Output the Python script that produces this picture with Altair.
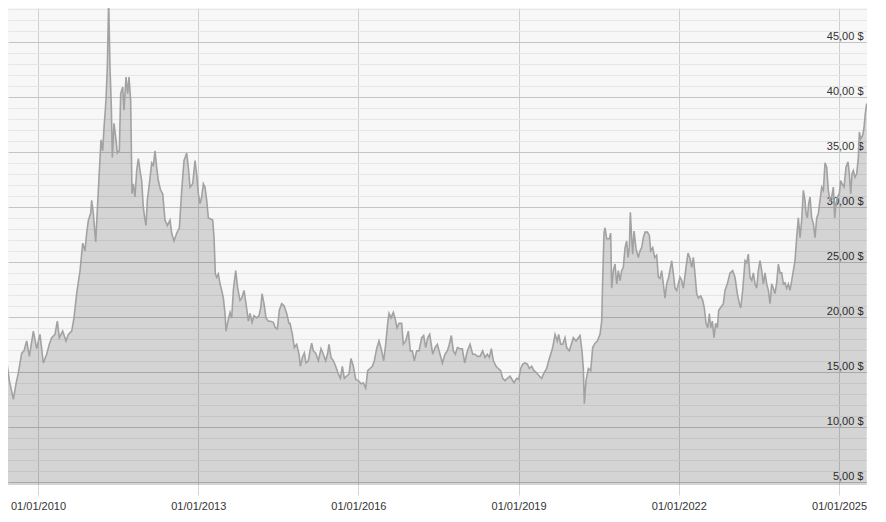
import altair as alt
import pandas as pd

# ---- data (decimal years / price in $) ----
dates_decimal = [
    2009.288, 2009.320, 2009.363, 2009.413, 2009.463, 2009.538, 2009.588, 2009.632, 2009.694, 2009.738,
    2009.788, 2009.838, 2009.913, 2009.975, 2010.037, 2010.100, 2010.162, 2010.212, 2010.256, 2010.318,
    2010.362, 2010.399, 2010.462, 2010.524, 2010.568, 2010.631, 2010.674, 2010.724, 2010.787, 2010.837,
    2010.880, 2010.911, 2010.943, 2010.986, 2011.005, 2011.036, 2011.080, 2011.117, 2011.149, 2011.180,
    2011.211, 2011.236, 2011.273, 2011.298, 2011.323, 2011.348, 2011.373, 2011.392, 2011.423, 2011.461,
    2011.486, 2011.523, 2011.548, 2011.586, 2011.610, 2011.648, 2011.679, 2011.704, 2011.735, 2011.760,
    2011.785, 2011.816, 2011.848, 2011.879,
    2011.910, 2011.941, 2011.973, 2012.004, 2012.023, 2012.047, 2012.085, 2012.129, 2012.160, 2012.191,
    2012.222, 2012.253, 2012.297, 2012.335, 2012.378, 2012.422, 2012.472, 2012.503, 2012.547, 2012.597,
    2012.647, 2012.691, 2012.734, 2012.784, 2012.815, 2012.847, 2012.897, 2012.940, 2012.971, 2013.003,
    2013.034, 2013.065, 2013.096, 2013.127, 2013.159, 2013.190, 2013.234, 2013.271, 2013.296, 2013.321,
    2013.346, 2013.377, 2013.408, 2013.440, 2013.471, 2013.502, 2013.521, 2013.552, 2013.596, 2013.627,
    2013.658, 2013.702, 2013.739, 2013.783, 2013.814, 2013.858, 2013.895, 2013.939, 2013.970, 2014.008,
    2014.045, 2014.095, 2014.139, 2014.170, 2014.195, 2014.232, 2014.270, 2014.313, 2014.357, 2014.407,
    2014.444, 2014.482, 2014.519, 2014.563, 2014.607, 2014.657, 2014.700,
    2014.719, 2014.763, 2014.800, 2014.844, 2014.888, 2014.913, 2014.950, 2014.987, 2015.019, 2015.062,
    2015.094, 2015.125, 2015.156, 2015.200, 2015.250, 2015.300, 2015.343, 2015.387, 2015.425, 2015.449,
    2015.487, 2015.531, 2015.574, 2015.624, 2015.662, 2015.699, 2015.737, 2015.780, 2015.824, 2015.861,
    2015.905, 2015.949, 2015.999, 2016.049, 2016.092, 2016.136, 2016.174, 2016.217, 2016.261, 2016.298,
    2016.342, 2016.386, 2016.436, 2016.473, 2016.511, 2016.548, 2016.573, 2016.610, 2016.654, 2016.685,
    2016.723, 2016.760, 2016.810, 2016.841, 2016.885, 2016.935, 2016.972, 2017.010, 2017.047, 2017.091,
    2017.135, 2017.185, 2017.222, 2017.260, 2017.297, 2017.335,
    2017.391, 2017.434, 2017.478, 2017.528, 2017.572, 2017.622, 2017.665, 2017.703, 2017.740, 2017.778,
    2017.815, 2017.853, 2017.903, 2017.946, 2017.990, 2018.040, 2018.090, 2018.140, 2018.184, 2018.227,
    2018.277, 2018.327, 2018.371, 2018.414, 2018.452, 2018.489, 2018.527, 2018.577, 2018.620, 2018.664,
    2018.702, 2018.745, 2018.789, 2018.839, 2018.876, 2018.914, 2018.964, 2019.001, 2019.039, 2019.076,
    2019.120, 2019.164, 2019.201, 2019.245, 2019.288, 2019.338, 2019.388, 2019.432, 2019.476, 2019.526,
    2019.563, 2019.601, 2019.638, 2019.682, 2019.725, 2019.750, 2019.788, 2019.825, 2019.869, 2019.900,
    2019.950, 2019.987, 2020.025, 2020.075, 2020.119,
    2020.150, 2020.187, 2020.212, 2020.231, 2020.262, 2020.306, 2020.350, 2020.387, 2020.431, 2020.474,
    2020.524, 2020.556, 2020.574, 2020.599, 2020.618, 2020.649, 2020.699, 2020.724, 2020.743, 2020.774,
    2020.805, 2020.837, 2020.868, 2020.899, 2020.930, 2020.961, 2020.993, 2021.024, 2021.049, 2021.074,
    2021.092, 2021.117, 2021.136, 2021.161, 2021.199, 2021.242, 2021.273, 2021.305, 2021.336, 2021.367,
    2021.411, 2021.448, 2021.473, 2021.511, 2021.548, 2021.586, 2021.617, 2021.648, 2021.679, 2021.710,
    2021.742, 2021.773, 2021.810, 2021.867, 2021.898, 2021.929, 2021.960, 2021.991, 2022.022, 2022.054,
    2022.085, 2022.135, 2022.172, 2022.210, 2022.241, 2022.272, 2022.303, 2022.335, 2022.366, 2022.410,
    2022.447, 2022.478, 2022.509, 2022.541, 2022.572, 2022.597, 2022.628, 2022.659, 2022.690, 2022.722,
    2022.747,
    2022.834, 2022.865, 2022.909, 2022.959, 2023.009, 2023.052, 2023.096, 2023.134, 2023.159, 2023.196,
    2023.240, 2023.271, 2023.302, 2023.333, 2023.365, 2023.396, 2023.427, 2023.458, 2023.489, 2023.521,
    2023.552, 2023.583, 2023.614, 2023.646, 2023.677, 2023.708, 2023.739, 2023.770, 2023.801, 2023.833,
    2023.864, 2023.895, 2023.926, 2023.958, 2023.989, 2024.020, 2024.051, 2024.082, 2024.114, 2024.145,
    2024.176, 2024.207, 2024.238, 2024.270, 2024.301, 2024.332, 2024.363, 2024.382, 2024.407, 2024.432,
    2024.457, 2024.488, 2024.519, 2024.551, 2024.582, 2024.613, 2024.644, 2024.676, 2024.707, 2024.738,
    2024.769, 2024.800, 2024.831, 2024.863, 2024.894, 2024.919, 2024.944, 2024.969, 2025.006, 2025.031,
    2025.056, 2025.094, 2025.131, 2025.169, 2025.193, 2025.219, 2025.243, 2025.268, 2025.300, 2025.331,
    2025.362, 2025.381, 2025.406, 2025.443, 2025.468, 2025.493, 2025.518,
]

prices = [
    12.6, 12.2, 13.9, 16.0, 14.2, 12.5, 13.9, 14.9, 16.7, 16.9,
    17.8, 16.4, 18.7, 17.1, 18.4, 15.8, 16.6, 17.5, 18.1, 18.4,
    19.6, 18.1, 18.7, 17.8, 18.4, 18.7, 19.9, 22.1, 24.2, 26.7,
    26.0, 27.6, 28.8, 29.4, 30.6, 29.4, 26.8, 30.3, 33.3, 36.1,
    35.1, 37.2, 39.7, 42.7, 48.8, 42.7, 39.1, 34.5, 37.6, 36.1,
    34.9, 35.1, 40.3, 40.9, 38.8, 41.8, 40.3, 41.8, 39.7, 31.2,
    32.1, 30.9, 33.3, 34.4,
    33.3, 32.4, 29.9, 28.8, 28.3, 30.6, 32.1, 34.0, 33.8, 35.1,
    33.6, 32.4, 31.5, 31.2, 28.8, 28.3, 28.8, 27.6, 26.9, 27.6,
    28.1, 31.5, 34.2, 34.9, 33.6, 31.8, 32.1, 34.2, 33.0, 31.2,
    30.3, 30.9, 32.1, 31.8, 30.6, 29.0, 28.9, 28.8, 27.2, 23.9,
    23.6, 23.9, 23.0, 22.4, 21.7, 20.3, 18.7, 19.5, 20.4, 19.9,
    22.4, 24.2, 22.6, 21.5, 21.7, 22.4, 21.2, 19.6, 20.3, 19.5,
    20.1, 19.9, 20.1, 20.8, 22.1, 21.2, 19.9, 19.6, 19.6, 19.5,
    19.0, 18.9, 20.6, 21.2, 21.0, 20.3, 19.4,
    19.4, 18.4, 17.2, 17.5, 16.6, 15.5, 16.3, 16.7, 15.8, 16.0,
    16.9, 17.6, 16.9, 16.7, 16.0, 17.1, 16.6, 16.0, 16.7, 17.5,
    16.3, 16.0, 15.5, 14.8, 14.4, 15.5, 14.4, 14.6, 14.8, 16.2,
    15.5, 14.3, 14.2, 13.9, 14.0, 13.5, 15.1, 15.3, 15.5, 16.0,
    17.1, 17.8, 16.9, 16.0, 17.5, 19.4, 20.3, 19.9, 20.4, 19.9,
    19.0, 19.4, 19.4, 17.5, 17.8, 18.7, 16.9, 16.9, 16.0, 16.9,
    16.9, 18.1, 18.3, 17.2, 18.1, 18.4,
    16.6, 17.2, 17.5, 16.6, 15.8, 16.6, 16.9, 17.5, 18.3, 16.9,
    16.6, 17.2, 17.1, 17.1, 15.8, 16.9, 17.5, 16.6, 16.6, 16.4,
    16.4, 16.9, 16.3, 16.6, 16.3, 17.1, 16.0, 15.5, 15.3, 15.1,
    14.4, 14.2, 14.4, 14.6, 14.3, 14.0, 14.4, 14.3, 15.3, 15.7,
    15.8, 15.7, 15.3, 15.5, 15.1, 14.9, 14.6, 14.4, 14.9, 15.3,
    16.0, 16.6, 17.2, 18.4, 17.8, 18.4, 17.5, 17.5, 18.1, 17.2,
    16.9, 17.5, 18.1, 17.8, 18.1,
    18.3, 16.9, 15.3, 12.1, 14.2, 15.3, 15.1, 17.2, 17.6, 17.8,
    18.4, 19.6, 23.3, 27.6, 28.1, 27.1, 27.1, 27.6, 22.6, 24.2,
    24.8, 23.0, 24.2, 23.3, 24.2, 24.5, 26.3, 26.9, 25.4, 26.3,
    29.5, 27.2, 25.7, 27.8, 26.2, 25.4, 26.0, 26.3, 27.2, 27.7,
    27.7, 27.4, 26.0, 26.3, 25.4, 25.6, 23.6, 23.5, 24.2, 23.0,
    21.7, 23.0, 23.6, 25.1, 23.9, 22.6, 22.4, 23.0, 23.6, 23.3,
    22.6, 24.5, 25.8, 25.3, 24.5, 25.4, 23.9, 22.1, 21.7, 21.9,
    21.5, 20.8, 19.4, 19.0, 20.3, 19.0, 19.6, 18.1, 19.4, 19.0,
    20.6,
    21.2, 22.4, 23.0, 24.0, 24.2, 23.6, 22.1, 21.2, 20.8, 22.4,
    25.1, 24.9, 25.7, 23.6, 23.3, 24.0, 23.0, 22.6, 24.2, 25.1,
    24.2, 23.0, 24.0, 23.0, 22.4, 21.2, 23.0, 22.6, 22.1, 23.1,
    24.8, 24.0, 24.0, 23.0, 23.1, 22.6, 23.0, 22.4, 23.3, 24.2,
    25.1, 27.2, 29.0, 27.2, 28.8, 31.5, 30.6, 29.4, 29.0, 30.3,
    30.9, 29.0, 28.5, 27.2, 29.0, 29.4, 30.6, 31.8, 31.5, 34.0,
    33.6, 31.5, 30.6, 30.9, 31.8, 29.0, 30.3, 30.9, 31.2, 32.4,
    32.1, 31.8, 33.6, 34.1, 33.0, 31.2, 33.0, 33.3, 32.7, 33.0,
    34.5, 36.8, 36.2, 36.5, 37.2, 38.5, 39.4,
]

tick_years = [2010, 2013, 2016, 2019, 2022, 2025]
major_prices = [5, 10, 15, 20, 25, 30, 35, 40, 45]
minor_prices = [v for v in range(5, 49) if v not in major_prices]
x_range_decimal = [2009.438, 2025.524]
y_range = [4.7, 48.09]

FONT = "Liberation Sans"
BASE = pd.Timestamp("2010-01-01")


def to_ts(year):
    return BASE + pd.Timedelta(days=(year - 2010) * 365.25)


def to_dt(ts):
    return alt.DateTime(year=ts.year, month=ts.month, date=ts.day,
                        hours=ts.hour, minutes=ts.minute)


df = pd.DataFrame({"date": [to_ts(y) for y in dates_decimal], "price": prices})

x_scale = alt.Scale(domain=[to_dt(to_ts(v)) for v in x_range_decimal])
y_scale = alt.Scale(domain=y_range, zero=False, nice=False)

x_axis = alt.Axis(
    values=[alt.DateTime(year=y, month=1, date=1) for y in tick_years],
    format="%d/%m/%Y", title=None, grid=True, gridColor="#cfcfcf", gridWidth=1,
    ticks=True, tickSize=10, tickColor="#d4d4d4", tickWidth=1, domain=False,
    labelFont=FONT, labelFontSize=11, labelColor="#333333", labelPadding=5,
    labelAngle=0, labelFlush=False, labelOverlap=False,
)

minor_axis = alt.Axis(
    orient="left", values=minor_prices, grid=True, gridColor="#e6e6e6",
    gridWidth=1, labels=False, ticks=False, domain=False, title=None,
)

major_axis = alt.Axis(
    orient="right", values=major_prices, grid=True, gridColor="#c4c4c4",
    gridWidth=1, labels=True, ticks=False, tickSize=0, domain=False, title=None,
    labelExpr="replace(format(datum.value, '.2f'), '.', ',') + ' $'",
    labelAlign="right", labelBaseline="alphabetic", labelPadding=-4,
    labelOffset=-2, labelFont=FONT, labelFontSize=11, labelColor="#333333",
)

area = alt.Chart(df).mark_area(
    fill="#000000", fillOpacity=0.142, strokeWidth=0, clip=True
).encode(
    x=alt.X("date:T", scale=x_scale, axis=x_axis),
    y=alt.Y("price:Q", scale=y_scale, axis=minor_axis),
)

line = alt.Chart(df).mark_line(
    color="#a2a2a2", strokeWidth=1.6, clip=True
).encode(
    x=alt.X("date:T", scale=x_scale, axis=x_axis),
    y=alt.Y("price:Q", scale=y_scale, axis=major_axis),
)

chart = (
    alt.layer(area, line)
    .resolve_scale(x="shared", y="shared")
    .resolve_axis(y="independent")
    .properties(width=859, height=477, padding=0)
    .configure_view(fill="#f7f7f7", strokeWidth=0)
)

chart.save("out.html", embed_options={"renderer": "svg", "actions": False})
